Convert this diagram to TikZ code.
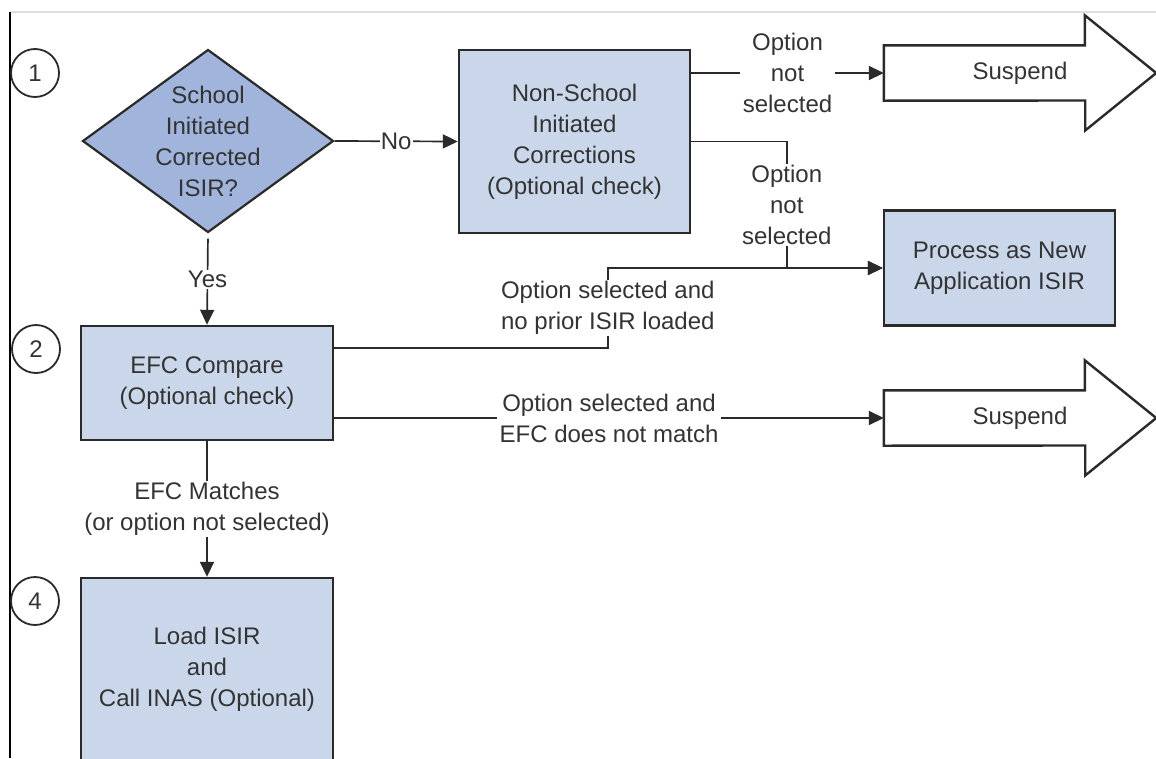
\documentclass[tikz,border=0pt]{standalone}
\usepackage{fontspec}
\setmainfont{Liberation Sans}
\usetikzlibrary{shapes.geometric,arrows.meta,calc}
\definecolor{dia}{HTML}{A0B4DC}
\definecolor{boxc}{HTML}{CAD7EB}
\definecolor{txt}{HTML}{333333}
\definecolor{ln}{HTML}{2A2A2A}
\begin{document}
\begin{tikzpicture}[x=1pt,y=-1pt,
  every node/.style={font=\fontsize{24}{31}\selectfont, text=txt, align=center},
  procbox/.style={draw=ln, line width=2.4pt, fill=boxc, inner sep=0pt},
  decision/.style={diamond, draw=ln, line width=2.2pt, fill=dia, inner sep=0pt, minimum width=251pt, minimum height=183pt},
  numcirc/.style={circle, draw=ln, line width=1.8pt, minimum size=48pt, inner sep=0pt},
  conn/.style={draw=ln, line width=1.7pt},
  arr/.style={conn, -{Triangle[length=15pt,width=14pt]}},
  lbl/.style={fill=white, inner xsep=3pt, inner ysep=1pt},
  bigarrow/.style={draw=ln, line width=2.4pt, line join=miter}
]
\useasboundingbox (0,0) rectangle (1156,758);
\clip (0,0) rectangle (1156,758);
% frame
\draw[gray!25, line width=1.2pt] (10,12) -- (1156,12);
\draw[black, line width=1.3pt] (10,12) -- (10,758);
% step numbers
\node[numcirc] (c1) at (35,73) {1};
\node[numcirc] (c2) at (36,349) {2};
\node[numcirc] (c4) at (35,601) {4};
% nodes
\node[decision] (d) at (208,141) {};
\node (dt) at (d.center) {School\\Initiated\\Corrected\\ISIR?};
\node[procbox, minimum width=231pt, minimum height=183pt] (nsic) at (574.5,141.5) {Non-School\\Initiated\\Corrections\\(Optional check)};
\node[procbox, minimum width=231pt, minimum height=115pt] (proc) at (999.5,268) {Process as New\\Application ISIR};
\node[procbox, minimum width=252pt, minimum height=114pt] (efc) at (207,383) {EFC Compare\\(Optional check)};
\node[procbox, minimum width=252pt, minimum height=182pt] (load) at (207,669) {Load ISIR\\and\\Call INAS (Optional)};
% suspend arrows
\node[minimum width=272pt, minimum height=55pt, inner sep=0pt] (sus1) at (1020,73) {Suspend};
\draw[bigarrow] (sus1.north west) -- ++(201,0) -- ++(0,-30) -- (sus1.east) -- ++(-71,57.5) -- ++(0,-30) -- (sus1.south west) -- cycle;
\node[minimum width=272pt, minimum height=55pt, inner sep=0pt] (sus2) at (1020,418) {Suspend};
\draw[bigarrow] (sus2.north west) -- ++(201,0) -- ++(0,-30) -- (sus2.east) -- ++(-71,57.5) -- ++(0,-30) -- (sus2.south west) -- cycle;
% connectors
\draw[arr] (d.east) -- node[lbl, inner xsep=1pt]{No} (nsic.west);
\draw[arr, shorten <=5pt] (d.south) -- node[lbl]{Yes} (efc.north);
\draw[arr] (nsic.east |- sus1.west) -- node[lbl]{Option\\not\\selected} (sus1.west);
\draw[arr] (nsic.east) -| node[lbl, pos=0.75]{Option\\not\\selected} ($(proc.west)+(-96,0)$) -- (proc.west);
\draw[arr] ($(efc.east)+(0,-35)$) -| node[lbl, pos=0.75]{Option selected and\\no prior ISIR loaded} ($(proc.west)+(-275,0)$) -- (proc.west);
\draw[arr] (efc.east |- sus2.west) -- node[lbl]{Option selected and\\EFC does not match} (sus2.west);
\draw[arr] (efc.south) -- node[lbl]{EFC Matches\\(or option not selected)} (load.north);
\end{tikzpicture}
\end{document}
